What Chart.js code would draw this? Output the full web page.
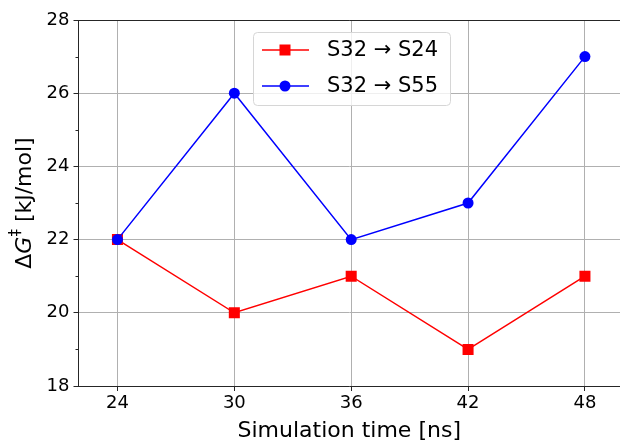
<!DOCTYPE html>
<html>
<head>
<meta charset="utf-8">
<script src="https://cdn.jsdelivr.net/npm/chart.js@4"></script>
<style>
    html, body { margin: 0; padding: 0; background: #fff; overflow: hidden; }
    #wrap { width: 620px; height: 444px; }
</style>
</head>
<body>
<div id="wrap"><canvas id="chart" width="620" height="444"></canvas></div>
<script>
// Simulation times (ns) and barrier heights (kJ/mol)
const times = [24, 30, 36, 42, 48];
const s24Values = [22, 20, 21, 19, 21];
const s55Values = [22, 26, 22, 23, 27];
const xTicks = [24, 30, 36, 42, 48];
const yTicks = [18, 20, 22, 24, 26, 28];
const yMinorTicks = [19, 21, 23, 25, 27];

const FONT = "'DejaVu Sans', sans-serif";

function toPoints(xs, ys) {
    return xs.map((x, i) => ({ x: x, y: ys[i] }));
}

// Top spine (the right one falls off the canvas) plus minor ticks on the y axis
const framePlugin = {
    id: 'frame',
    afterDraw(chart) {
        const { ctx, chartArea: a, scales } = chart;
        ctx.save();
        ctx.strokeStyle = '#262626';
        ctx.lineWidth = 1;
        ctx.beginPath();
        ctx.moveTo(a.left, a.top + 0.5);
        ctx.lineTo(a.right + 5, a.top + 0.5);
        yMinorTicks.forEach(v => {
            const y = Math.round(scales.y.getPixelForValue(v)) + 0.5;
            ctx.moveTo(a.left - 3, y);
            ctx.lineTo(a.left, y);
        });
        ctx.stroke();
        ctx.restore();
    }
};

// Y axis label with italic G and superscript double dagger
const yLabelPlugin = {
    id: 'yLabel',
    afterDraw(chart) {
        const { ctx, chartArea: a } = chart;
        const parts = [
            { t: 'Δ', f: '22px ' + FONT, dy: 0 },
            { t: 'G', f: 'italic 22px ' + FONT, dy: 0 },
            { t: '‡', f: '15px ' + FONT, dy: -9 },
            { t: ' [kJ/mol]', f: '22px ' + FONT, dy: 0 }
        ];
        ctx.save();
        let total = 0;
        parts.forEach(p => { ctx.font = p.f; p.w = ctx.measureText(p.t).width; total += p.w; });
        ctx.translate(25, (a.top + a.bottom) / 2);
        ctx.rotate(-Math.PI / 2);
        ctx.fillStyle = '#000';
        ctx.textBaseline = 'middle';
        let x = -total / 2;
        parts.forEach(p => {
            ctx.font = p.f;
            ctx.fillText(p.t, x, p.dy);
            x += p.w;
        });
        ctx.restore();
    }
};

// Legend box with line + marker samples
const legendPlugin = {
    id: 'lineLegend',
    afterDraw(chart) {
        const { ctx } = chart;
        const box = { x: 253.5, y: 32.5, w: 197, h: 73 };
        ctx.save();
        ctx.beginPath();
        ctx.roundRect(box.x, box.y, box.w, box.h, 4);
        ctx.fillStyle = 'rgba(255,255,255,0.8)';
        ctx.fill();
        ctx.strokeStyle = '#d6d6d6';
        ctx.lineWidth = 1;
        ctx.stroke();

        const rows = [50, 86];
        const sets = [chart.data.datasets[1], chart.data.datasets[0]];
        sets.forEach((ds, i) => {
            const y = rows[i];
            ctx.strokeStyle = ds.borderColor;
            ctx.lineWidth = 1.5;
            ctx.beginPath();
            ctx.moveTo(262, y);
            ctx.lineTo(309, y);
            ctx.stroke();
            ctx.fillStyle = ds.backgroundColor;
            if (ds.pointStyle === 'rect') {
                ctx.fillRect(285 - 5.5, y - 5.5, 11, 11);
            } else {
                ctx.beginPath();
                ctx.arc(285, y, 5.5, 0, Math.PI * 2);
                ctx.fill();
            }
            ctx.fillStyle = '#000';
            ctx.font = '21px ' + FONT;
            ctx.textBaseline = 'middle';
            ctx.fillText(ds.label, 327, y + 1);
        });
        ctx.restore();
    }
};

new Chart(document.getElementById('chart'), {
    type: 'line',
    data: {
        datasets: [
            {
                label: 'S32 → S55',
                data: toPoints(times, s55Values),
                borderColor: '#0000ff',
                backgroundColor: '#0000ff',
                borderWidth: 1.5,
                pointStyle: 'circle',
                pointRadius: 5.5,
                pointBorderWidth: 0,
                order: 1
            },
            {
                label: 'S32 → S24',
                data: toPoints(times, s24Values),
                borderColor: '#ff0000',
                backgroundColor: '#ff0000',
                borderWidth: 1.5,
                pointStyle: 'rect',
                pointRadius: 7.8,
                pointBorderWidth: 0,
                order: 2
            }
        ]
    },
    options: {
        responsive: false,
        animation: false,
        layout: { autoPadding: false, padding: { top: 20, right: 0, left: 0, bottom: 0 } },
        plugins: {
            legend: { display: false },
            tooltip: { enabled: false }
        },
        scales: {
            x: {
                type: 'linear',
                min: 22,
                max: 49.8,
                afterBuildTicks(scale) { scale.ticks = xTicks.map(v => ({ value: v })); },
                afterFit(scale) { scale.height = 58; },
                grid: { color: '#b0b0b0', lineWidth: 1, tickLength: 5, tickColor: '#262626' },
                border: { color: '#262626', width: 1 },
                ticks: { color: '#000', font: { family: FONT, size: 18 }, padding: 2, maxRotation: 0 },
                title: {
                    display: true,
                    text: 'Simulation time [ns]',
                    color: '#000',
                    font: { family: FONT, size: 22 },
                    padding: { top: 0, bottom: 0 }
                }
            },
            y: {
                min: 18,
                max: 28,
                afterBuildTicks(scale) { scale.ticks = yTicks.map(v => ({ value: v })); },
                afterFit(scale) { scale.width = 78.5; },
                grid: { color: '#b0b0b0', lineWidth: 1, tickLength: 5, tickColor: '#262626' },
                border: { color: '#262626', width: 1 },
                ticks: { color: '#000', font: { family: FONT, size: 18 }, padding: 4 }
            }
        }
    },
    plugins: [framePlugin, yLabelPlugin, legendPlugin]
});
</script>
</body>
</html>
